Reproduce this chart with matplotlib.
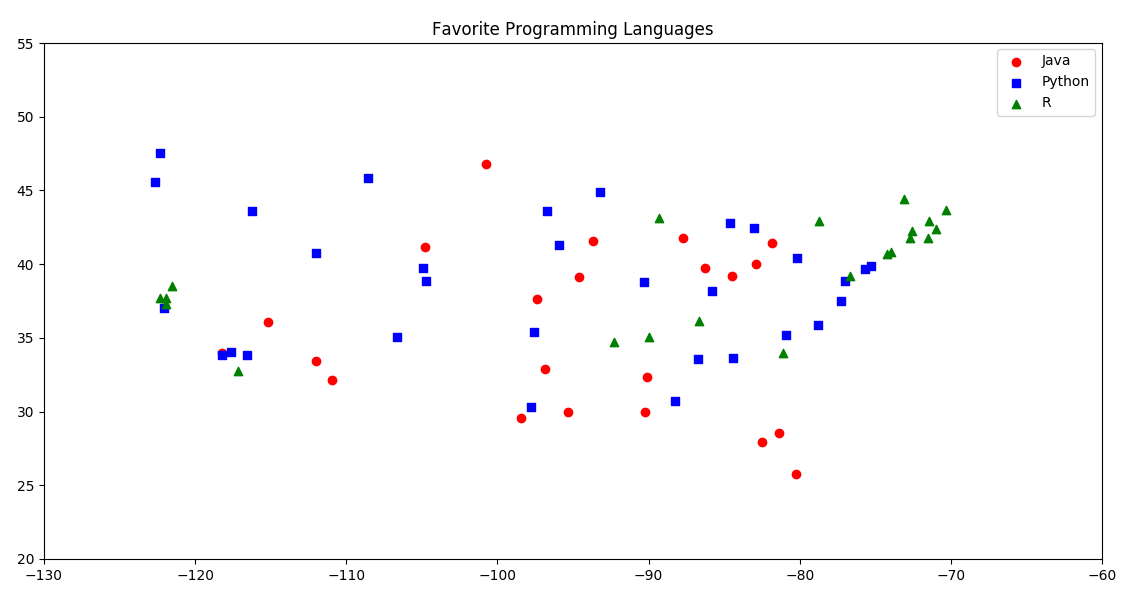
import matplotlib
matplotlib.use("Agg")
import matplotlib.pyplot as plt

##### DATA (longitude, latitude)
java_lon = [-100.75, -104.8, -115.2, -118.25, -112.0, -110.95, -98.45, -97.4, -96.85, -95.3,
            -94.6, -93.7, -90.25, -90.1, -87.7, -86.25, -84.5, -82.9, -81.85, -82.5,
            -81.4, -80.25]
java_lat = [46.8, 41.15, 36.1, 34.0, 33.4, 32.15, 29.55, 37.65, 32.9, 30.0,
            39.1, 41.55, 30.0, 32.35, 41.8, 39.75, 39.2, 40.0, 41.45, 27.95,
            28.55, 25.75]

python_lon = [-122.3, -122.65, -116.25, -108.55, -112.0, -122.05, -118.2, -117.6, -116.55, -104.95,
              -104.7, -106.65, -97.6, -97.75, -96.7, -95.9, -93.2, -90.3, -88.25, -86.7,
              -85.8, -84.6, -84.4, -83.0, -80.2, -80.9, -78.8, -77.3, -77.0, -75.65,
              -75.3]
python_lat = [47.55, 45.55, 43.6, 45.85, 40.75, 37.0, 33.85, 34.02, 33.82, 39.75,
              38.84, 35.05, 35.4, 30.3, 43.6, 41.3, 44.9, 38.8, 30.7, 33.55,
              38.2, 42.8, 33.6, 42.45, 40.45, 35.2, 35.9, 37.5, 38.85, 39.7,
              39.9]

r_lon = [-122.3, -121.95, -121.9, -121.55, -117.15, -92.3, -89.95, -89.3, -86.65, -81.1,
         -78.7, -76.65, -74.2, -73.95, -73.1, -72.7, -72.55, -71.45, -71.5, -71.0,
         -70.35]
r_lat = [37.7, 37.7, 37.3, 38.5, 32.75, 34.7, 35.05, 43.1, 36.15, 34.0,
         42.9, 39.2, 40.7, 40.8, 44.45, 41.8, 42.25, 42.9, 41.8, 42.4,
         43.7]

##### PLOTTING
# older text layout, the title runs a bit wider with it
plt.rcParams['text.kerning_factor'] = 6
plt.rcParams['text.hinting'] = 'auto'

fig = plt.figure(figsize=(11.26, 5.90), dpi=100)
ax = fig.add_axes([44/1126, 1-559/590, (1102-44)/1126, (559-43)/590])

ax.scatter(java_lon, java_lat, color='red', marker='o', label='Java', s=36)
ax.scatter(python_lon, python_lat, color='blue', marker='s', label='Python', s=36)
ax.scatter(r_lon, r_lat, color='green', marker='^', label='R', s=36)

ax.set_xlim(-130, -60)
ax.set_ylim(20, 55)
ax.set_title('Favorite Programming Languages')
ax.legend(loc='upper right', bbox_to_anchor=(1, 1.002))

fig.savefig('out.png', dpi=100)
